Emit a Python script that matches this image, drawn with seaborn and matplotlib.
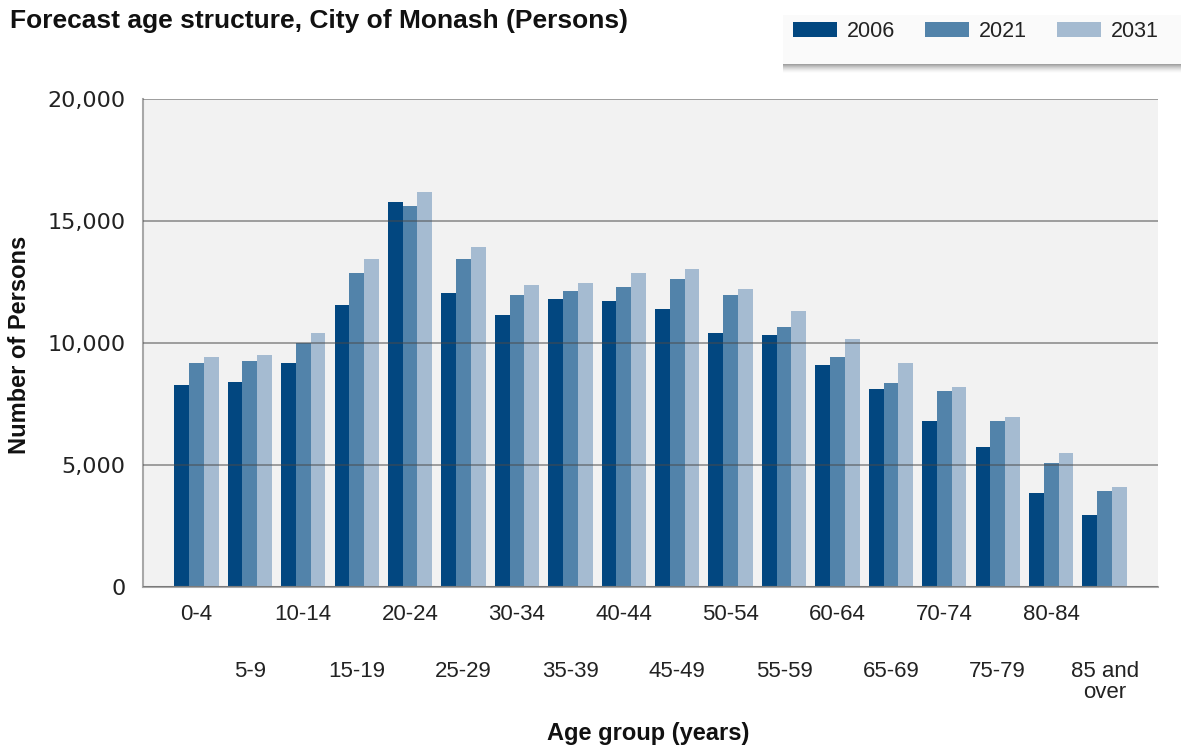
import numpy as np
import pandas as pd
import matplotlib
matplotlib.use("Agg")
import matplotlib.pyplot as plt
from matplotlib.patches import Rectangle
from matplotlib.ticker import FuncFormatter
import seaborn as sns

# Age groups and forecast population counts
age_groups = ["0-4", "5-9", "10-14", "15-19", "20-24", "25-29", "30-34", "35-39",
              "40-44", "45-49", "50-54", "55-59", "60-64", "65-69", "70-74",
              "75-79", "80-84", "85 and\nover"]
years = ["2006", "2021", "2031"]
persons_2006 = [8290, 8390, 9190, 11570, 15760, 12060, 11160, 11820, 11730,
                11410, 10420, 10340, 9110, 8130, 6820, 5750, 3870, 2960]
persons_2021 = [9190, 9280, 10010, 12880, 15600, 13460, 11980, 12140, 12310,
                12640, 11980, 10670, 9440, 8370, 8050, 6820, 5100, 3950]
persons_2031 = [9440, 9520, 10420, 13460, 16170, 13950, 12390, 12470, 12880,
                13050, 12230, 11320, 10180, 9190, 8210, 6980, 5510, 4110]
y_ticks = [0, 5000, 10000, 15000, 20000]

colors = ["#024780", "#5283aa", "#a5bbd1"]

sns.set_theme(style="white")
plt.rcParams["font.family"] = ["Liberation Sans", "DejaVu Sans"]

W, H = 1181, 747


def fx(x):
    return x / W


def fy(y):
    return 1 - y / H


df = pd.DataFrame({
    "age": age_groups * 3,
    "year": np.repeat(years, len(age_groups)),
    "persons": persons_2006 + persons_2021 + persons_2031,
})

fig = plt.figure(figsize=(W / 100, H / 100), dpi=100)
ax = fig.add_axes([fx(143), fy(587), fx(1158) - fx(143), fy(99) - fy(587)])

sns.barplot(data=df, x="age", y="persons", hue="year", order=age_groups,
            hue_order=years, palette=colors, saturation=1, width=0.83,
            errorbar=None, linewidth=0, ax=ax)

handles, labels = ax.get_legend_handles_labels()
ax.get_legend().remove()

ax.set_facecolor("#f2f2f2")
ax.set_xlim(-1, 18)
ax.set_ylim(0, 20000)
ax.set_yticks(y_ticks)
ax.yaxis.set_major_formatter(FuncFormatter(lambda v, p: f"{int(v):,}"))
ax.yaxis.grid(True, color="#4a4a4a", alpha=0.5, linewidth=1.4)
ax.xaxis.grid(False)
ax.set_axisbelow(False)

for side in ("top", "right"):
    ax.spines[side].set_visible(False)
for side in ("left", "bottom"):
    ax.spines[side].set_color("#a8a8a8")
    ax.spines[side].set_linewidth(1.5)

# Alternate category labels on two rows
major_pos = [-1] + list(range(0, 18, 2)) + [18]
major_lab = [""] + age_groups[0::2] + [""]
minor_pos = list(range(1, 18, 2))
minor_lab = age_groups[1::2]
ax.set_xticks(major_pos, major_lab)
ax.set_xticks(minor_pos, minor_lab, minor=True)

ax.tick_params(axis="x", which="both", length=7.5, width=1.3, color="#a8a8a8",
               labelsize=16, labelcolor="#222222")
ax.tick_params(axis="x", which="major", pad=5)
ax.tick_params(axis="x", which="minor", pad=46)
for lab in ax.get_xticklabels(minor=True):
    lab.set_linespacing(1.0)

ax.tick_params(axis="y", length=9.5, width=1.3, color="#a8a8a8",
               labelsize=16, labelcolor="#222222", pad=3)
for lab in ax.get_yticklabels():
    lab.set_fontfamily("DejaVu Sans")

ax.set_xlabel("")
ax.set_ylabel("")

fig.text(fx(10), fy(28), "Forecast age structure, City of Monash (Persons)",
         fontsize=19, fontweight="bold", color="#111111", va="baseline", ha="left")
fig.text(fx(20), fy(345), "Number of Persons", rotation=90, fontsize=17,
         fontweight="bold", color="#111111", ha="center", va="center")
fig.text(fx(648), fy(740), "Age group (years)", fontsize=17,
         fontweight="bold", color="#111111", ha="center", va="baseline")

# Legend panel with a soft shadow beneath it
fig.patches.append(Rectangle((fx(783), fy(64)), fx(1190) - fx(783), fy(15) - fy(64),
                             transform=fig.transFigure, facecolor="#fafafa",
                             edgecolor="none", zorder=0))
for i in range(9):
    fig.patches.append(Rectangle((fx(783), fy(65 + i)), fx(1190) - fx(783),
                                 fy(64 + i) - fy(65 + i), transform=fig.transFigure,
                                 facecolor="#555555", alpha=0.55 * (1 - i / 9) ** 1.6,
                                 edgecolor="none", zorder=0))

fig.legend(handles, labels, loc="upper left", bbox_to_anchor=(fx(793), fy(21)),
           ncol=3, frameon=False, fontsize=15.5, handlelength=2.05,
           handleheight=0.75, handletextpad=0.45, columnspacing=1.4,
           borderpad=0, borderaxespad=0, labelcolor="#222222")

fig.savefig("out.png", dpi=100)
